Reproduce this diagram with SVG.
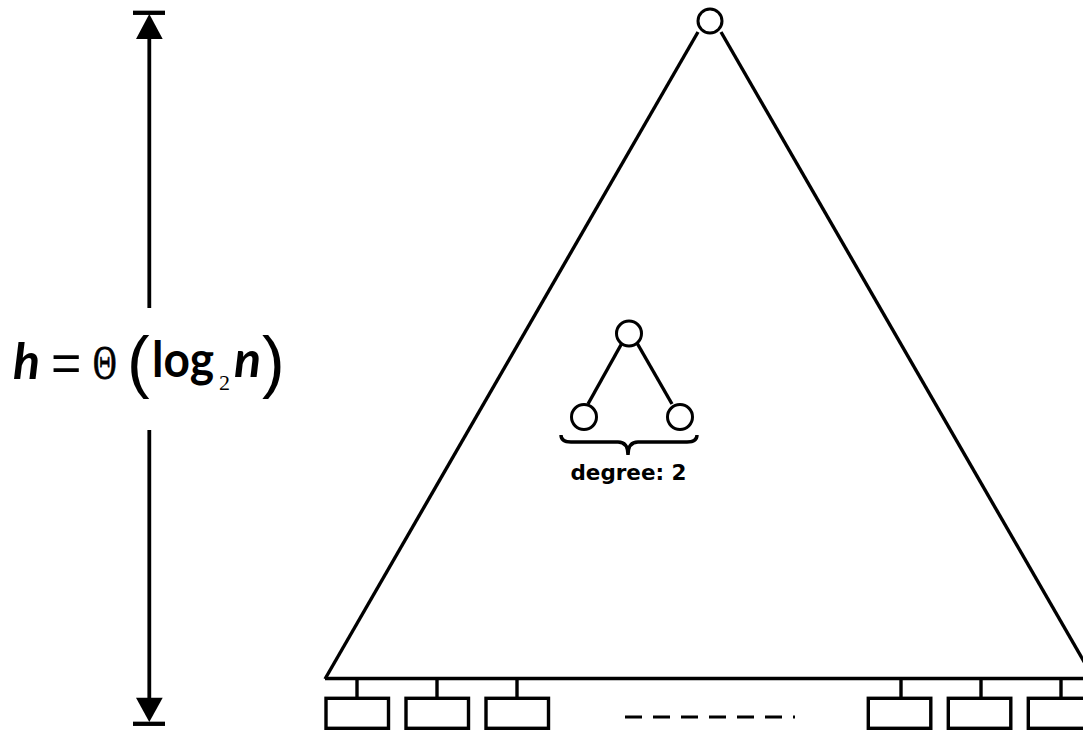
<svg xmlns="http://www.w3.org/2000/svg" width="1083" height="731" viewBox="0 0 1083 731">
  <style>
    .ln { stroke: #000; stroke-width: 3.4; fill: none; }
    .node { stroke: #000; stroke-width: 3; fill: #fff; }
    .box { stroke: #000; stroke-width: 3.4; fill: #fff; }
    .math { font-family: Lato, "Liberation Sans", sans-serif; font-weight: bold; fill: #000; }
    .serif { font-family: "Liberation Serif", "DejaVu Serif", serif; fill: #000; }
    .paren { font-family: "Liberation Sans", sans-serif; font-size: 68px; fill: #000; }
    .lbl { font-family: "DejaVu Sans", Verdana, sans-serif; font-weight: bold; font-size: 21.5px; fill: #000; }
  </style>
  <rect width="1083" height="731" fill="#fff"/>

  <!-- height dimension arrow -->
  <g id="height-arrow">
    <line x1="133" y1="12.8" x2="165" y2="12.8" stroke="#000" stroke-width="4.3"/>
    <polygon points="149.3,14 136,39 162.7,39" fill="#000"/>
    <line x1="149.3" y1="38" x2="149.3" y2="308" stroke="#000" stroke-width="3.8"/>
    <line x1="149.3" y1="430" x2="149.3" y2="699" stroke="#000" stroke-width="3.8"/>
    <polygon points="149.3,722 136,697.7 162.7,697.7" fill="#000"/>
    <line x1="133" y1="723.8" x2="165" y2="723.8" stroke="#000" stroke-width="4.3"/>
  </g>

  <!-- h = Θ(log2 n) -->
  <g id="height-formula">
    <text class="math" x="13" y="379" font-size="50" style="font-style: italic">h</text>
    <text x="51" y="381" font-family="Liberation Sans, sans-serif" font-size="52" fill="#000">=</text>
    <text class="serif" x="0" y="0" font-size="48" stroke="#000" stroke-width="0.8" transform="translate(93,379) scale(0.68,1)">Θ</text>
    <text class="paren" x="127" y="385">(</text>
    <text class="math" x="152" y="377" font-size="50" textLength="62" lengthAdjust="spacingAndGlyphs">log</text>
    <text class="serif" x="219" y="390" font-size="22">2</text>
    <text class="math" x="234" y="377" font-size="50" style="font-style: italic">n</text>
    <text class="paren" x="262" y="385">)</text>
  </g>

  <!-- edges of the tree -->
  <g id="connectors">
    <line class="ln" x1="698" y1="32" x2="325" y2="679"/>
    <line class="ln" x1="721" y1="32" x2="1094" y2="679"/>
    <line class="ln" x1="325" y1="678.5" x2="1095" y2="678.5"/>
    <line class="ln" x1="622" y1="343" x2="588" y2="404"/>
    <line class="ln" x1="637" y1="343" x2="672" y2="404"/>
    <g class="ln">
      <line x1="357" y1="678" x2="357" y2="698"/>
      <line x1="437" y1="678" x2="437" y2="698"/>
      <line x1="517" y1="678" x2="517" y2="698"/>
      <line x1="901" y1="678" x2="901" y2="698"/>
      <line x1="981" y1="678" x2="981" y2="698"/>
      <line x1="1061" y1="678" x2="1061" y2="698"/>
    </g>
    <line x1="625" y1="717" x2="795" y2="717" stroke="#000" stroke-width="3.2" stroke-dasharray="17 11"/>
  </g>

  <g id="root">
    <circle class="node" cx="710" cy="21" r="12"/>
  </g>

  <g id="subtree">
    <circle class="node" cx="629" cy="333.5" r="12.5"/>
    <circle class="node" cx="584" cy="417" r="12.5"/>
    <circle class="node" cx="680" cy="417" r="12.5"/>
    <path class="ln" stroke-width="2.8" d="M561 435 Q561 442 571 442 L618 442 Q628 442 628 455 Q628 442 638 442 L687 442 Q697 442 697 435"/>
    <text class="lbl" x="628.5" y="480" text-anchor="middle">degree: 2</text>
  </g>

  <g id="leaves">
    <rect class="box" x="326" y="698.3" width="62.5" height="30"/>
    <rect class="box" x="406" y="698.3" width="62.5" height="30"/>
    <rect class="box" x="486" y="698.3" width="62.5" height="30"/>
    <rect class="box" x="868.3" y="698.3" width="62.5" height="30"/>
    <rect class="box" x="948.3" y="698.3" width="62.5" height="30"/>
    <rect class="box" x="1028.3" y="698.3" width="62.5" height="30"/>
  </g>
</svg>
